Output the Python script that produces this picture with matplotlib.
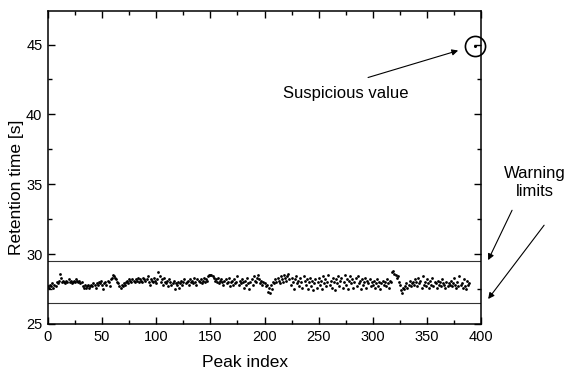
import numpy as np
import matplotlib.pyplot as plt
from matplotlib.ticker import MultipleLocator

plt.rcParams['font.family'] = ['Liberation Sans', 'DejaVu Sans']

# Retention times of the peaks, in order of peak index
retention = [
    27.7, 27.6, 27.8, 27.7, 27.9, 27.6, 27.8, 27.7, 28.0, 27.9,
    28.1, 28.6, 28.3, 28.0, 28.1, 28.0, 27.9, 28.1, 28.0, 28.2,
    28.0, 28.1, 27.9, 28.0, 28.1, 28.0, 28.2, 28.1, 28.0, 28.1,
    27.9, 28.0, 27.7, 27.6, 27.8, 27.6, 27.7, 27.8, 27.6, 27.7,
    27.8, 27.7, 27.9, 27.8, 27.6, 27.9, 27.8, 28.0, 27.9, 28.1,
    27.8, 27.5, 27.9, 28.0, 27.8, 28.1, 28.0, 27.7, 28.2, 28.3,
    28.5, 28.4, 28.3, 28.2, 28.0, 27.9, 27.7, 27.6, 27.8, 27.7,
    27.9, 27.8, 28.0, 28.1, 27.9, 28.2, 28.1, 28.0, 28.2, 28.1,
    28.0, 28.2, 28.1, 28.3, 28.0, 28.2, 28.1, 28.0, 28.3, 28.2,
    28.1, 28.2, 28.4, 28.0, 27.8, 28.2, 28.1, 28.0, 28.3, 28.1,
    27.9, 28.2, 28.7, 28.4, 28.0, 28.2, 27.8, 28.3, 28.0, 27.9,
    28.1, 27.7, 28.2, 28.0, 27.8, 27.9, 28.1, 27.5, 27.9, 27.8,
    28.0, 27.6, 27.9, 28.1, 27.8, 28.0, 28.2, 27.9, 28.0, 28.1,
    27.8, 28.2, 28.0, 28.1, 27.9, 28.3, 28.0, 27.8, 28.2, 28.1,
    28.0, 28.2, 27.9, 28.1, 28.3, 28.0, 28.2, 28.1, 28.4, 28.5,
    28.5, 28.5, 28.4, 28.3, 28.1, 28.2, 28.0, 28.3, 27.9, 28.1,
    28.2, 28.0, 27.8, 28.1, 28.2, 27.9, 28.0, 28.3, 27.7, 28.0,
    28.1, 27.8, 28.2, 27.9, 28.0, 28.4, 27.8, 28.1, 27.9, 28.2,
    28.0, 27.6, 28.1, 27.8, 28.3, 27.9, 27.5, 28.0, 28.2, 27.8,
    28.4, 28.1, 28.0, 28.3, 28.5, 28.2, 27.9, 28.1, 27.8, 28.0,
    27.9, 27.7, 27.8, 27.3, 27.6, 27.2, 27.8, 27.5, 28.0, 27.9,
    28.2, 28.0, 28.3, 28.1, 27.9, 28.4, 28.2, 28.0, 28.5, 28.3,
    28.1, 28.4, 28.6, 28.2, 27.8, 28.3, 28.0, 27.5, 28.2, 28.4,
    27.9, 28.1, 27.7, 28.3, 28.0, 27.6, 28.4, 28.1, 27.8, 28.2,
    27.5, 28.0, 28.3, 27.7, 28.1, 27.4, 27.9, 28.2, 27.6, 28.0,
    28.3, 27.8, 28.1, 27.5, 28.4, 27.9, 28.2, 27.7, 28.0, 28.5,
    27.8, 28.1, 27.6, 28.3, 28.0, 27.4, 28.2, 27.9, 28.4, 27.7,
    28.1, 28.3, 27.6, 28.0, 28.5, 27.8, 28.2, 27.5, 28.1, 28.4,
    27.9, 28.2, 27.6, 28.0, 28.3, 27.7, 28.4, 27.9, 28.1, 27.5,
    28.2, 27.8, 28.0, 28.3, 27.6, 28.1, 27.9, 28.2, 27.7, 28.0,
    27.8, 28.1, 27.6, 27.9, 28.2, 27.7, 28.0, 27.5, 27.9, 28.1,
    27.8, 28.0, 27.7, 28.2, 27.9, 27.6, 28.1, 28.0, 28.7, 28.8,
    28.6, 28.5, 28.3, 28.4, 28.0, 27.8, 27.4, 27.2, 27.6, 27.5,
    27.7, 27.9, 27.6, 27.8, 28.1, 27.7, 27.9, 28.0, 27.8, 28.2,
    28.0, 27.7, 28.3, 27.9, 28.1, 27.6, 28.4, 27.8, 28.0, 27.7,
    28.2, 27.9, 27.6, 28.1, 27.8, 28.3, 27.7, 28.0, 27.9, 27.6,
    28.1, 27.8, 28.0, 27.7, 28.2, 27.9, 27.8, 27.6, 28.0, 27.7,
    27.9, 27.8, 28.1, 27.7, 27.9, 28.3, 27.8, 27.6, 28.0, 27.7,
    28.4, 27.8, 27.9, 27.6, 28.2, 27.7, 27.5, 28.1, 27.8, 27.9,
]
peak_index = np.arange(len(retention))

# The outlier far above the rest
outlier_index = 394
outlier_time = 44.9

# Warning limits
upper_limit = 29.5
lower_limit = 26.5

fig = plt.figure(figsize=(5.66, 3.74), dpi=100)
ax = fig.add_axes([0.0848, 0.1337, 0.7652, 0.8369])

ax.axhline(upper_limit, color='#333333', lw=0.8)
ax.axhline(lower_limit, color='#333333', lw=0.8)

ax.plot(peak_index, retention, 'o', color='black', ms=2.0, mew=0)
ax.plot([outlier_index], [outlier_time], 'o', color='black', ms=2.2, mew=0)
ax.plot([outlier_index], [outlier_time], 'o', mfc='none', mec='black',
        ms=14.5, mew=1.2, clip_on=False)

ax.set_xlim(0, 400)
ax.set_ylim(25, 47.4)
ax.xaxis.set_major_locator(MultipleLocator(50))
ax.xaxis.set_minor_locator(MultipleLocator(25))
ax.yaxis.set_major_locator(MultipleLocator(5))
ax.yaxis.set_minor_locator(MultipleLocator(2.5))
ax.tick_params(which='both', direction='in', top=True, right=True,
               labelsize=10.5, width=1)
ax.tick_params(which='major', length=5, pad=4)
ax.tick_params(which='minor', length=3)
for s in ax.spines.values():
    s.set_linewidth(1.1)

ax.set_xlabel('Peak index', fontsize=12.5)
ax.xaxis.set_label_coords(0.455, -0.098)
ax.set_ylabel('Retention time [s]', fontsize=12.5)
ax.yaxis.set_label_coords(-0.055, 0.438)

arrow = dict(arrowstyle='-|>', color='black', lw=0.8, mutation_scale=9,
             shrinkA=0, shrinkB=0)
ax.annotate('', xy=(378.8, 44.57), xytext=(295.6, 42.64), arrowprops=arrow)
ax.text(274.8, 41.5, 'Suspicious value', fontsize=12, ha='center', va='center')

ax.annotate('', xy=(406.5, 29.57), xytext=(428.6, 33.14), arrowprops=arrow,
            annotation_clip=False)
ax.annotate('', xy=(406.5, 26.79), xytext=(458.2, 32.07), arrowprops=arrow,
            annotation_clip=False)
ax.text(449.9, 35.14, 'Warning\nlimits', fontsize=12, ha='center', va='center',
        linespacing=1.2, clip_on=False)

fig.savefig('out.png', dpi=100)
